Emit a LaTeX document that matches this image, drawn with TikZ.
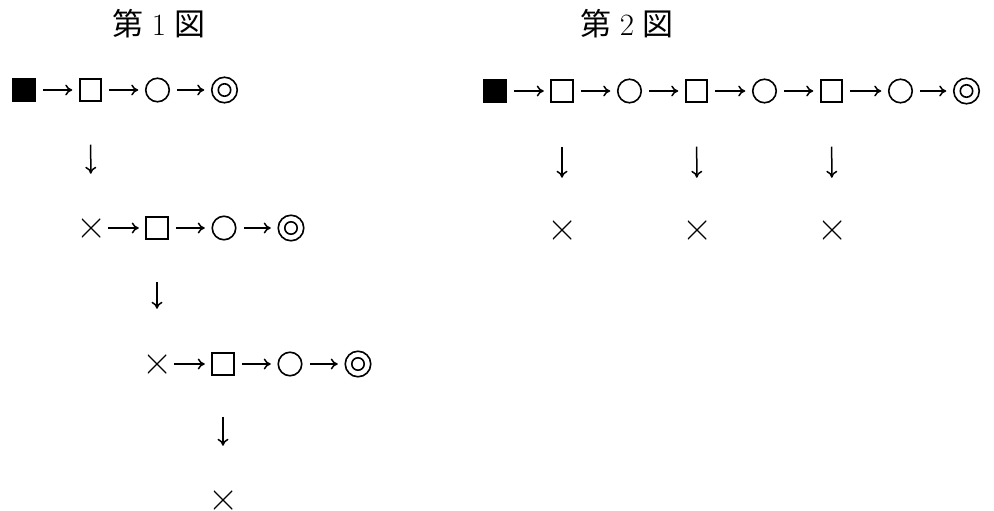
\documentclass[tikz,border=0pt]{standalone}
\usepackage{fontspec}
\newfontfamily\cjk{Noto Sans CJK JP}
\usetikzlibrary{arrows.meta}

\tikzset{
  sym/.style={inner sep=0pt, outer sep=0pt, line width=1.6pt},
  filledsq/.style={sym, draw, fill=black, minimum size=21.5pt},
  opensq/.style={sym, draw, minimum size=21.5pt},
  ring/.style={sym, draw, circle, minimum size=23.5pt},
  dring/.style={sym, draw, circle, minimum size=25.5pt,
    path picture={
      \draw[line width=1.6pt] (path picture bounding box.center) circle (6.2pt);
    }},
  cross/.style={sym, minimum size=18.5pt,
    path picture={
      \draw[line width=1.3pt]
        (path picture bounding box.south west) -- (path picture bounding box.north east)
        (path picture bounding box.north west) -- (path picture bounding box.south east);
    }},
  link/.style={-{To[length=7pt,width=11pt]}, line width=1.5pt, shorten <=8pt, shorten >=7.5pt},
  drop/.style={-{To[length=7pt,width=11pt]}, line width=1.5pt},
  title/.style={inner sep=0pt, font=\fontsize{31}{33}\selectfont},
}

\begin{document}
\begin{tikzpicture}[x=1pt, y=-1pt]
  \useasboundingbox (0,0) rectangle (994,511);

  % --- first figure ---
  \node[title] (t1) at (159,24) {{\cjk 第}\hspace{8pt}1\hspace{8pt}{\cjk 図}};

  \node[filledsq] (a1) at (24,90) {};
  \node[opensq]   (a2) at (90.5,90) {};
  \node[ring]     (a3) at (157.5,90) {};
  \node[dring]    (a4) at (224.5,90) {};

  \node[cross]    (b1) at (91,228) {};
  \node[opensq]   (b2) at (157,228) {};
  \node[ring]     (b3) at (224,228) {};
  \node[dring]    (b4) at (291,228) {};

  \node[cross]    (c1) at (157,364) {};
  \node[opensq]   (c2) at (223,364) {};
  \node[ring]     (c3) at (290,364) {};
  \node[dring]    (c4) at (358,364) {};

  \node[cross]    (d1) at (223,500) {};

  \draw[link] (a1) -- (a2);
  \draw[link] (a2) -- (a3);
  \draw[link] (a3) -- (a4);
  \draw[link] (b1) -- (b2);
  \draw[link] (b2) -- (b3);
  \draw[link] (b3) -- (b4);
  \draw[link] (c1) -- (c2);
  \draw[link] (c2) -- (c3);
  \draw[link] (c3) -- (c4);

  \draw[drop, shorten <=44pt, shorten >=45pt] (a2) -- (b1);
  \draw[drop, shorten <=43pt, shorten >=46pt] (b2) -- (c1);
  \draw[drop, shorten <=42pt, shorten >=45pt] (c2) -- (d1);

  % --- second figure ---
  \node[title] (t2) at (627,24) {{\cjk 第}\hspace{8pt}2\hspace{8pt}{\cjk 図}};

  \node[filledsq] (e1) at (495,91) {};
  \node[opensq]   (e2) at (562,91) {};
  \node[ring]     (e3) at (629.5,91) {};
  \node[opensq]   (e4) at (696.5,91) {};
  \node[ring]     (e5) at (764.5,91) {};
  \node[opensq]   (e6) at (831.5,91) {};
  \node[ring]     (e7) at (900.5,91) {};
  \node[dring]    (e8) at (966.5,91) {};

  \node[cross]    (f1) at (562,230) {};
  \node[cross]    (f2) at (697,230) {};
  \node[cross]    (f3) at (832,230) {};

  \draw[link] (e1) -- (e2);
  \draw[link] (e2) -- (e3);
  \draw[link] (e3) -- (e4);
  \draw[link] (e4) -- (e5);
  \draw[link] (e5) -- (e6);
  \draw[link] (e6) -- (e7);
  \draw[link] (e7) -- (e8);

  \draw[drop, shorten <=45pt, shorten >=43pt] (e2) -- (f1);
  \draw[drop, shorten <=45pt, shorten >=43pt] (e4) -- (f2);
  \draw[drop, shorten <=45pt, shorten >=43pt] (e6) -- (f3);
\end{tikzpicture}
\end{document}
